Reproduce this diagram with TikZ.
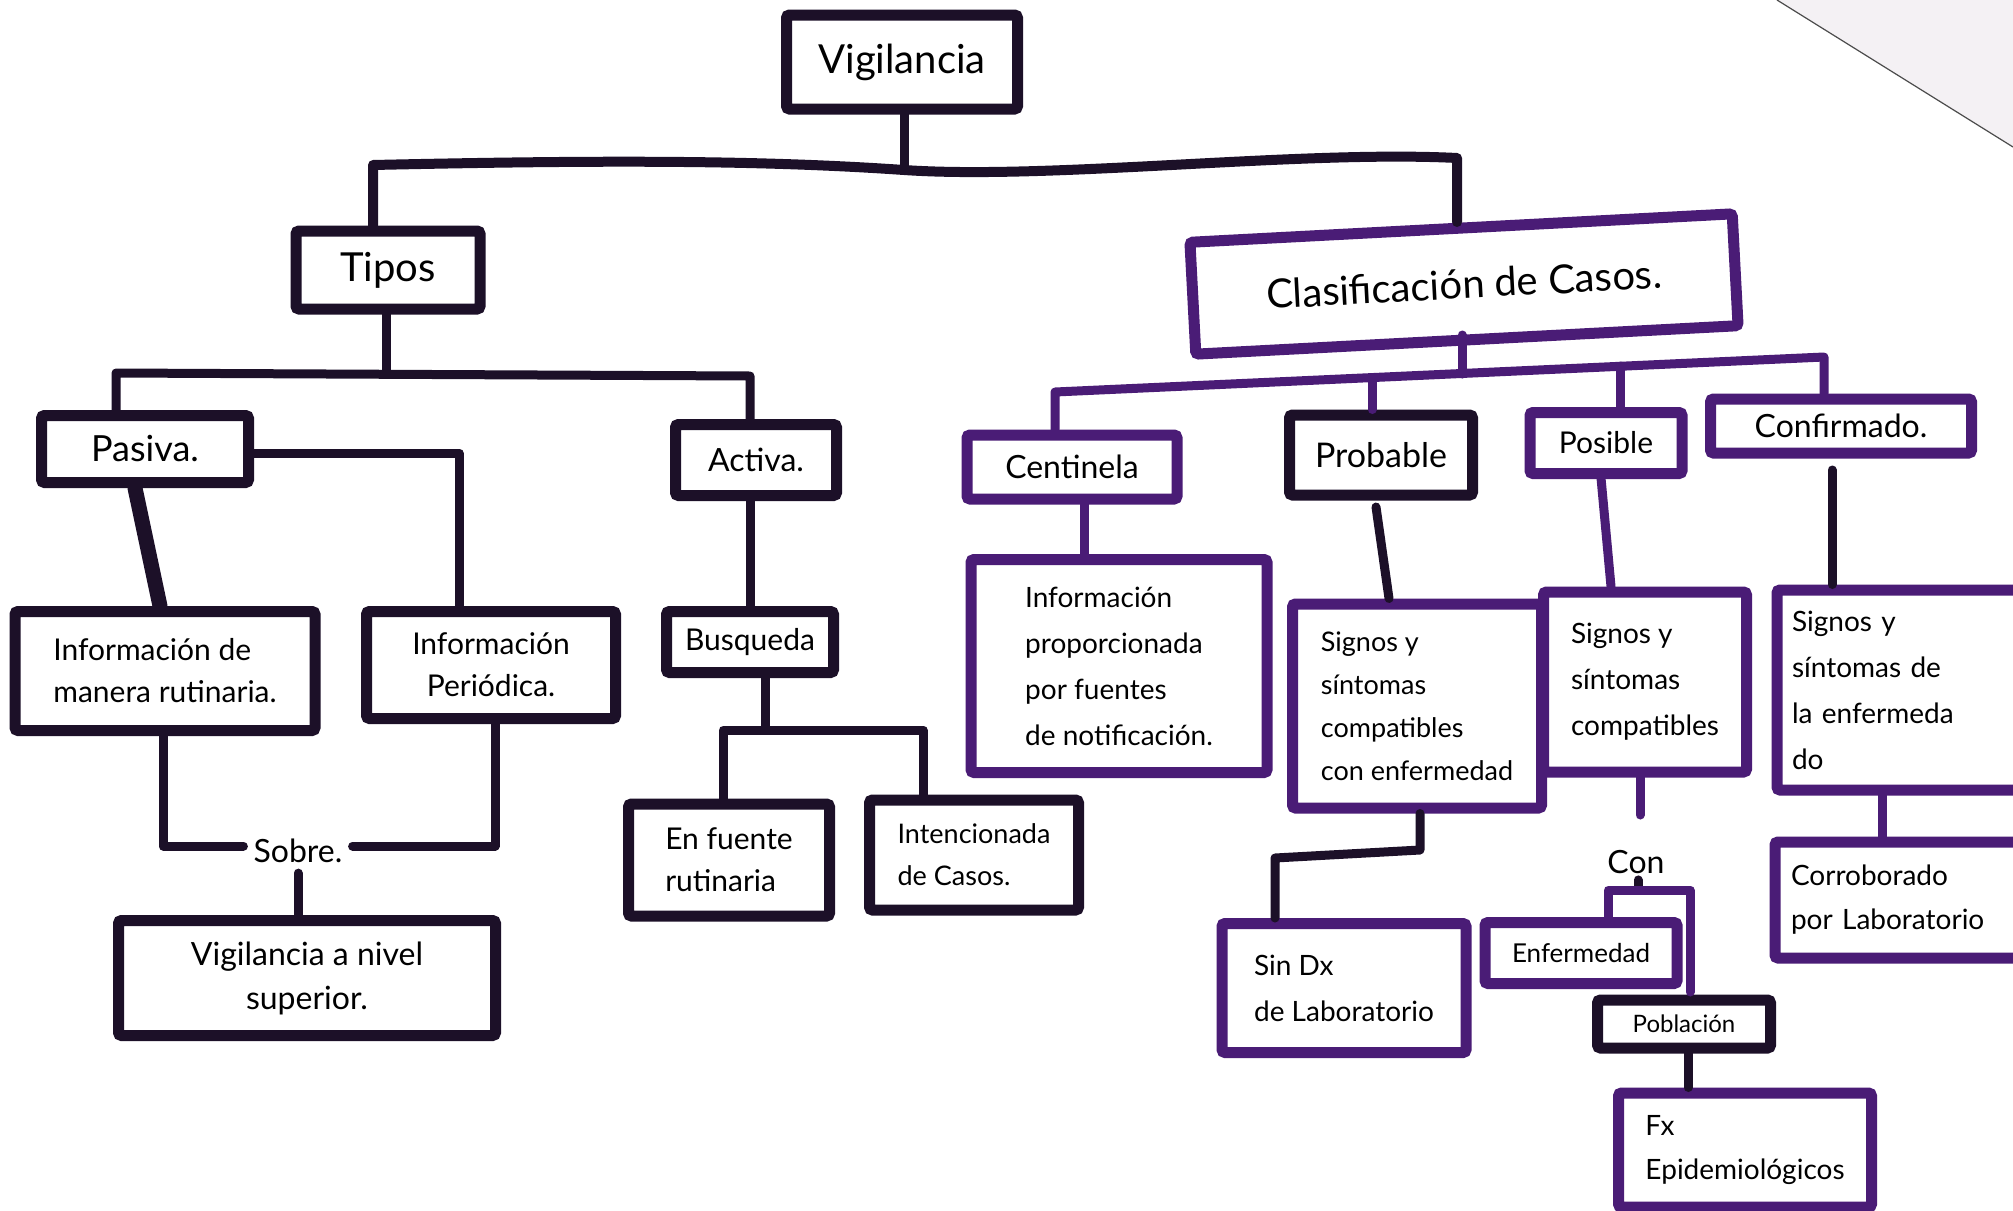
\documentclass[tikz,border=0pt]{standalone}
\usepackage{fontspec}
\setmainfont{Lato}
\newcommand{\myfs}[2]{\fontsize{#1}{#2}\selectfont}
\definecolor{inkA}{RGB}{28,16,40}
\definecolor{inkB}{RGB}{74,28,118}
\definecolor{paperedge}{RGB}{244,241,244}
\tikzset{
  bx/.style={draw=inkA, line width=11pt, rectangle, rounded corners=3pt, fill=white, inner sep=6pt, align=center, text=black},
  bxp/.style={bx, draw=inkB},
  cn/.style={draw=inkA, line width=9pt, line cap=round, line join=round},
  cnp/.style={cn, draw=inkB},
  lbl/.style={inner sep=10pt, text=black}
}
\begin{document}
\begin{tikzpicture}[x=1pt,y=-1pt]
\useasboundingbox (0,0) rectangle (2013,1210);
\clip (0,0) rectangle (2013,1210);
\fill[white] (0,0) rectangle (2013,1210);
\fill[paperedge] (1777,0) -- (2013,147) -- (2013,0) -- cycle;
\draw[gray!60!black, line width=1.2pt] (1777,0) -- (2013,147);

% ---------- nodes ----------
\node[bx, minimum width=231, minimum height=94, font=\myfs{40}{48}] (vig) at (902,62) {Vigilancia};
\node[bx, minimum width=184, minimum height=78, font=\myfs{40}{48}] (tipos) at (388,270) {Tipos};
\node[bxp, rotate=3, minimum width=543, minimum height=112, font=\myfs{40}{48}] (clas) at (1464,284) {Clasificación de Casos.};

\node[bx, minimum width=207, minimum height=67, font=\myfs{36}{44}] (pasiva) at (145,449) {Pasiva.};
\node[bx, minimum width=161, minimum height=71, font=\myfs{32}{40}] (activa) at (756,460) {Activa.};

\node[bx, minimum width=300, minimum height=119, align=left, font=\myfs{30}{42}] (inf1) at (165,671) {Información de\\manera rutinaria.};
\node[bx, minimum width=249, minimum height=107, font=\myfs{30}{42}] (inf2) at (491,665) {Información\\Periódica.};
\node[lbl, font=\myfs{32}{40}] (sobre) at (298,851) {Sobre.};
\node[bx, minimum width=377, minimum height=115, font=\myfs{32}{44}] (vsup) at (307,978) {Vigilancia a nivel\\superior.};

\node[bx, minimum width=167, minimum height=61, font=\myfs{30}{38}] (busq) at (750,642) {Busqueda};
\node[bx, minimum width=201, minimum height=112, align=left, font=\myfs{30}{42}] (enf) at (729,860) {En fuente\\rutinaria};
\node[bx, minimum width=209, minimum height=110, align=left, font=\myfs{27}{42}] (intc) at (974,855) {Intencionada\\de Casos.};

\node[bxp, minimum width=210, minimum height=64, font=\myfs{32}{40}] (cent) at (1072,467) {Centinela};
\node[bxp, minimum width=296, minimum height=213, align=left, font=\myfs{28}{46}] (centinf) at (1119,666) {Información\\proporcionada\\por fuentes\\de notificación.};

\node[bx, minimum width=183, minimum height=80, font=\myfs{34}{42}] (prob) at (1381,455) {Probable};
\node[bxp, minimum width=152, minimum height=61, font=\myfs{30}{38}] (posi) at (1606,443) {Posible};
\node[bxp, minimum width=261, minimum height=54, font=\myfs{32}{40}] (conf) at (1841,426) {Confirmado.};

\node[bxp, minimum width=249, minimum height=204, align=left, font=\myfs{27}{43}] (probs) at (1417,706) {Signos y\\síntomas\\compatibles\\con enfermedad};
\node[bxp, minimum width=203, minimum height=180, align=left, font=\myfs{28}{46}] (posis) at (1645,682) {Signos y\\síntomas\\compatibles};
\node[bxp, minimum width=280, minimum height=200, text width=250, align=left, font=\myfs{28}{46}] (confs) at (1917,690) {Signos y\\síntomas de\\la enfermeda\\do};
\node[bxp, minimum width=282, minimum height=116, text width=250, align=left, font=\myfs{28}{44}] (corr) at (1916,900) {Corroborado\\por Laboratorio};

\node[bxp, minimum width=244, minimum height=129, align=left, font=\myfs{28}{46}] (sindx) at (1344,988) {Sin Dx\\de Laboratorio};
\node[lbl, inner sep=6pt, font=\myfs{32}{40}] (con) at (1636,862) {Con};
\node[bxp, minimum width=192, minimum height=61, font=\myfs{26}{34}] (enfm) at (1581,953) {Enfermedad};
\node[bx, minimum width=173, minimum height=48, font=\myfs{24}{30}] (pobl) at (1684,1024) {Población};
\node[bxp, minimum width=253, minimum height=114, align=left, font=\myfs{28}{44}] (fx) at (1745,1150) {Fx\\Epidemiológicos};

% ---------- connectors ----------
\coordinate (j0) at (904,170);
\coordinate (jl) at (373,165);
\coordinate (jr) at (1457,158);
\draw[cn] (vig.south -| j0) -- (j0);
\draw[cn, line width=10pt] (tipos.north -| jl) -- (jl) .. controls (600,160) and (760,160) .. (j0) .. controls (1050,180) and (1300,150) .. (jr) -- (jr |- 0,222);

\coordinate (k0) at (386,373);
\coordinate (kl) at (116,373);
\coordinate (kr) at (750,376);
\draw[cn] (tipos.south -| k0) -- (k0);
\draw[cn] (pasiva.north -| kl) -- (kl) -- (kr) -- (activa.north -| kr);

\coordinate (p1) at (459,453);
\draw[cn] (pasiva.east |- p1) -- (p1) -- (inf2.north -| p1);
\draw[cn, line width=15pt] ([xshift=-10pt]pasiva.south) -- ([xshift=-5pt]inf1.north);

\coordinate (s1) at (163,846);
\coordinate (s2) at (495,846);
\draw[cn] (inf1.south -| s1) -- (s1) -- (sobre.west |- s1);
\draw[cn] (inf2.south -| s2) -- (s2) -- (sobre.east |- s2);
\draw[cn] (sobre.south) -- (sobre.south |- vsup.north);

\draw[cn] (activa.south -| busq.north) -- (busq.north);
\coordinate (b0) at (765,730);
\coordinate (bl) at (723,730);
\coordinate (br) at (923,730);
\draw[cn] (busq.south -| b0) -- (b0);
\draw[cn] (enf.north -| bl) -- (bl) -- (br) -- (intc.north -| br);

\coordinate (c0) at (1462,374);
\coordinate (cl) at (1055,392);
\coordinate (cr) at (1824,357);
\coordinate (cp) at (1372,378);
\coordinate (cq) at (1620,366);
\draw[cnp] (c0 |- 0,335) -- (c0);
\draw[cnp] (cent.north -| cl) -- (cl) -- (cr) -- (conf.north -| cr);
\draw[cnp] (cp) -- (cp |- prob.north);
\draw[cnp] (cq) -- (cq |- posi.north);

\draw[cnp] ([xshift=12pt]cent.south) -- ([xshift=12pt]cent.south |- centinf.north);

\coordinate (pr0) at (1376,507);
\draw[cn] (pr0) -- ([xshift=-28pt]probs.north);
\coordinate (q1) at (1420,850);
\coordinate (q2) at (1275,858);
\draw[cn] (probs.south -| q1) -- (q1) -- (q2) -- (q2 |- sindx.north);

\coordinate (po0) at (1601,478);
\draw[cnp] (po0) -- ([xshift=-34pt]posis.north);
\coordinate (po1) at (1640,815);
\draw[cnp] (posis.south -| po1) -- (po1);

\coordinate (w0) at (1638,890);
\coordinate (wl) at (1608,890);
\coordinate (wr) at (1690,890);
\coordinate (wr2) at (1690,992);
\draw[cn] (con.south -| w0) -- (w0);
\draw[cnp] (enfm.north -| wl) -- (wl) -- (wr) -- (wr2);
\draw[cn] ([xshift=4pt]pobl.south) -- ([xshift=4pt]pobl.south |- fx.north);

\coordinate (cf0) at (1832,470);
\draw[cn] (cf0) -- (cf0 |- confs.north);
\draw[cnp] ([xshift=-35pt]confs.south) -- ([xshift=-35pt]confs.south |- corr.north);
\end{tikzpicture}
\end{document}
